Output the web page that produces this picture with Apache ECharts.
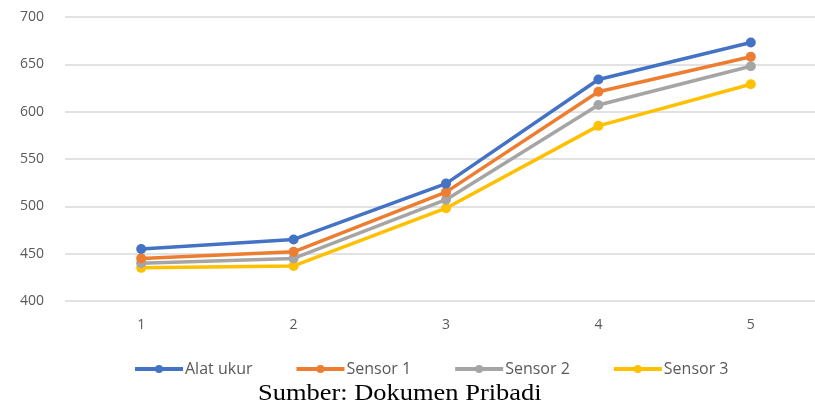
<!DOCTYPE html>
<html>
<head>
<meta charset="utf-8">
<script src="https://cdn.jsdelivr.net/npm/echarts@6/dist/echarts.min.js"></script>
<style>
  html, body { margin: 0; padding: 0; background: #fff; }
  #contain { width: 815px; height: 411px; }
</style>
</head>
<body>
<div id="contain"></div>
<script>
// data
var categories = ['1', '2', '3', '4', '5'];
var alatUkur = [455, 465, 524, 634, 673];
var sensor1  = [445, 452, 515, 621, 658];
var sensor2  = [440, 445, 507, 607, 648];
var sensor3  = [435, 437, 498, 585, 629];

var names  = ['Alat ukur', 'Sensor 1', 'Sensor 2', 'Sensor 3'];
var colors = ['#4472C4', '#ED7D31', '#A5A5A5', '#FFC000'];
var values = [alatUkur, sensor1, sensor2, sensor3];

var myChart = echarts.init(document.getElementById('contain'));

var series = [];
for (var i = 0; i < names.length; i++) {
    series.push({
        name: names[i],
        type: 'line',
        data: values[i],
        symbol: 'circle',
        symbolSize: 10,
        color: colors[i],
        lineStyle: { width: 3.5 },
        z: 10 - i
    });
}

var option = {
    animation: false,
    textStyle: { fontFamily: 'Open Sans, Roboto, sans-serif' },
    graphic: [{
        type: 'text',
        left: 258,
        top: 382,
        scaleX: 1.15,
        style: {
            text: 'Sumber: Dokumen Pribadi',
            font: '23px "Liberation Serif", "Times New Roman", serif',
            fill: '#000'
        }
    }],
    legend: {
        data: names,
        left: 128,
        top: 356,
        itemWidth: 48,
        itemHeight: 10,
        itemGap: 42,
        lineStyle: { width: 4 },
        textStyle: { fontSize: 16, color: '#595959', padding: [0, 0, 0, -3] }
    },
    grid: {
        left: 65,
        right: -12,
        top: 17,
        bottom: 110,
        outerBoundsMode: 'none'
    },
    xAxis: {
        type: 'category',
        data: categories,
        boundaryGap: true,
        axisLine: { show: false },
        axisTick: { show: false },
        axisLabel: { color: '#595959', fontSize: 14, margin: 17 }
    },
    yAxis: {
        type: 'value',
        min: 400,
        max: 700,
        interval: 50,
        axisLine: { show: false },
        axisTick: { show: false },
        axisLabel: { color: '#595959', fontSize: 14, margin: 21 },
        splitLine: { lineStyle: { color: '#d9d9d9', width: 1.5 } }
    },
    series: series
};

myChart.setOption(option);
</script>
</body>
</html>
